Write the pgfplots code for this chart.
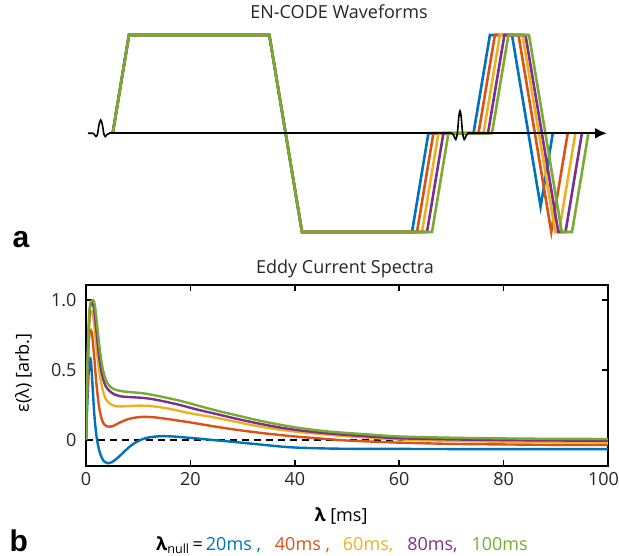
\documentclass[border=0pt]{standalone}
\usepackage{fontspec}
\setmainfont{Open Sans}
\newfontfamily\boldlab{Liberation Sans}
\usepackage{pgfplots}
\pgfplotsset{compat=1.18}
\usetikzlibrary{arrows.meta}
\definecolor{mblue}{rgb}{0,0.447,0.741}
\definecolor{mred}{rgb}{0.85,0.325,0.098}
\definecolor{myellow}{rgb}{0.929,0.694,0.125}
\definecolor{mpurple}{rgb}{0.494,0.184,0.556}
\definecolor{mgreen}{rgb}{0.466,0.674,0.188}
\begin{document}
\begin{tikzpicture}[x=1pt,y=1pt]
\useasboundingbox (0,0) rectangle (619pt,556pt);
% ---------- panel a: waveforms (pixel coordinates) ----------
\begin{axis}[at={(0pt,0pt)},anchor=south west,scale only axis,width=619pt,height=556pt,
  xmin=0,xmax=619,ymin=0,ymax=556,y dir=reverse,hide axis,clip=false]
\addplot[mblue,line width=2.6pt] coordinates {(112.7,133.3)(129,35)(269.3,35)(302,232)(412,232)(428.4,133.3)(473.5,133.3)(489.9,35)(512,35)(528.4,133.3)(540.6,206.7)(552.8,133.3)};
\addplot[mred,line width=2.6pt] coordinates {(112.7,133.3)(129,35)(269.3,35)(302,232)(417,232)(433.4,133.3)(478.5,133.3)(494.9,35)(518.5,35)(551.3,232)(567.7,133.3)};
\addplot[myellow,line width=2.6pt] coordinates {(112.7,133.3)(129,35)(269.3,35)(302,232)(422,232)(438.4,133.3)(483.5,133.3)(499.9,35)(522.5,35)(555.3,232)(559,232)(575.4,133.3)};
\addplot[mpurple,line width=2.6pt] coordinates {(112.7,133.3)(129,35)(269.3,35)(302,232)(427,232)(443.4,133.3)(488,133.3)(504.4,35)(525.5,35)(558.3,232)(565.5,232)(581.9,133.3)};
\addplot[mgreen,line width=2.6pt] coordinates {(112.7,133.3)(129,35)(269.3,35)(302,232)(432,232)(448.4,133.3)(492,133.3)(508.4,35)(529,35)(561.8,232)(572,232)(588.4,133.3)};
% RF pulses
\addplot[black,line width=1.6pt,smooth,tension=0.6] coordinates {(88,133.3)(93,133.3)(94.5,134.5)(96,136.5)(97.5,134)(99,125)(100.7,120)(102.4,125)(103.9,134)(105.4,136.5)(107,134.5)(110,133.3)};
\addplot[black,line width=1.6pt,smooth,tension=0.6] coordinates {(450,133.3)(452.5,133.3)(454,136)(455.8,139.5)(457.5,132)(458.8,117)(460,111)(461.2,117)(462.5,132)(464.2,139.5)(466,136)(468,133.3)};
% time axis
\addplot[black,line width=2.4pt] coordinates {(109,133.3)(451,133.3)};
\addplot[black,line width=2.4pt,-{Latex[length=12pt,width=11pt]}] coordinates {(467,133.3)(607,133.3)};
% texts
\node[font=\fontsize{18}{22}\selectfont,text=black!85] at (axis cs:339,11.5) {EN-CODE Waveforms};
\node[font=\fontsize{18}{22}\selectfont,text=black!85] at (axis cs:345,269) {Eddy Current Spectra};
\node[font=\boldlab\bfseries\fontsize{30}{32}\selectfont,anchor=base west] at (axis cs:9,248) {a};
\node[font=\boldlab\bfseries\fontsize{30}{32}\selectfont,anchor=base west] at (axis cs:6,551) {b};
\node[font=\fontsize{18}{22}\selectfont,rotate=90] at (axis cs:23.5,373) {ε(λ) [arb.]};
\node[font=\fontsize{18}{22}\selectfont] at (axis cs:341,516) {\textbf{λ} [ms]};
\node[font=\fontsize{18}{22}\selectfont,anchor=base] at (axis cs:342,550) {\textbf{λ}\textsubscript{null}\,=\,\textcolor{mblue}{20ms ,}\hspace{14pt}\textcolor{mred}{40ms ,}\hspace{13pt}\textcolor{myellow}{60ms,}\hspace{14pt}\textcolor{mpurple}{80ms,}\hspace{14pt}\textcolor{mgreen}{100ms}};
\end{axis}
% ---------- panel b: eddy current spectra ----------
\begin{axis}[at={(86pt,90pt)},anchor=south west,scale only axis,width=522pt,height=181pt,
  xmin=0,xmax=100,ymin=-0.186,ymax=1.107,
  xtick={0,20,40,60,80,100},xticklabels={0,20,40,60,80,{\makebox[0pt][c]{\hspace{-9pt}100}}},
  ytick={0,0.5,1},yticklabels={0,0.5,1.0},
  tick align=inside,major tick length=6pt,
  tick style={line width=1.5pt,black},
  axis line style={line width=2pt},
  ticklabel style={font=\fontsize{18}{22}\selectfont,text=black!85},
  /pgf/number format/assume math mode=true,
  xticklabel style={yshift=-3pt},
  yticklabel style={xshift=-6pt},
  clip=true]
\addplot[black,dashed,line width=1.8pt,dash pattern=on 7pt off 5pt] coordinates {(0,0)(100,0)};
\addplot[mblue,line width=2.4pt,smooth,tension=0.55] coordinates {(0,0)(0.3,0.3)(0.6,0.55)(0.8,0.585)(1.0,0.54)(1.3,0.36)(1.6,0.18)(2.0,0.03)(2.5,-0.07)(3,-0.125)(3.6,-0.158)(4.3,-0.167)(5,-0.158)(6,-0.13)(7,-0.095)(8,-0.06)(9,-0.03)(10,-0.008)(11,0.008)(12,0.018)(13.5,0.025)(15,0.027)(17,0.024)(19,0.018)(22,0.008)(25,-0.003)(28,-0.013)(31,-0.024)(34,-0.035)(37,-0.046)(40,-0.054)(45,-0.06)(50,-0.063)(60,-0.064)(70,-0.065)(80,-0.065)(100,-0.065)};
\addplot[mred,line width=2.4pt,smooth,tension=0.55] coordinates {(0,0)(0.3,0.45)(0.6,0.74)(0.9,0.786)(1.2,0.74)(1.6,0.58)(2,0.4)(2.5,0.24)(3,0.15)(3.5,0.11)(4,0.097)(4.7,0.095)(5.5,0.105)(6.5,0.125)(8,0.148)(9.5,0.16)(11,0.165)(12.5,0.163)(14,0.158)(17,0.142)(20,0.125)(24,0.1)(28,0.077)(32,0.057)(36,0.04)(40,0.025)(45,0.01)(50,-0.004)(55,-0.012)(60,-0.019)(70,-0.028)(80,-0.032)(90,-0.035)(100,-0.036)};
\addplot[myellow,line width=2.4pt,smooth,tension=0.55] coordinates {(0,0)(0.3,0.5)(0.7,0.86)(1.1,0.92)(1.5,0.85)(2,0.66)(2.5,0.5)(3,0.39)(3.5,0.32)(4,0.28)(5,0.25)(6,0.24)(7,0.24)(8.5,0.243)(10,0.245)(12,0.243)(14,0.235)(17,0.215)(20,0.19)(24,0.165)(28,0.135)(32,0.105)(36,0.08)(40,0.06)(45,0.042)(50,0.026)(55,0.014)(60,0.004)(70,-0.007)(80,-0.013)(90,-0.017)(100,-0.019)};
\addplot[mpurple,line width=2.4pt,smooth,tension=0.55] coordinates {(0,0)(0.3,0.55)(0.7,0.92)(1.2,0.98)(1.6,0.92)(2,0.78)(2.5,0.6)(3,0.48)(3.5,0.41)(4,0.37)(5,0.335)(6,0.318)(7,0.31)(9,0.305)(11,0.3)(13,0.29)(15,0.275)(18,0.25)(21,0.22)(25,0.185)(29,0.15)(33,0.118)(37,0.09)(41,0.068)(46,0.048)(50,0.036)(55,0.023)(60,0.012)(70,0.004)(80,-0.001)(90,-0.004)(100,-0.005)};
\addplot[mgreen,line width=2.4pt,smooth,tension=0.55] coordinates {(0,0)(0.3,0.58)(0.7,0.94)(1.3,1.0)(1.7,0.96)(2.1,0.83)(2.6,0.66)(3.1,0.53)(3.6,0.45)(4.2,0.4)(5,0.37)(6,0.355)(7.5,0.345)(9,0.34)(11,0.333)(13,0.32)(15,0.305)(18,0.28)(21,0.25)(25,0.21)(29,0.175)(33,0.14)(37,0.11)(41,0.085)(46,0.062)(50,0.05)(55,0.037)(60,0.025)(70,0.016)(80,0.011)(90,0.008)(100,0.007)};
\end{axis}
\end{tikzpicture}
\end{document}
